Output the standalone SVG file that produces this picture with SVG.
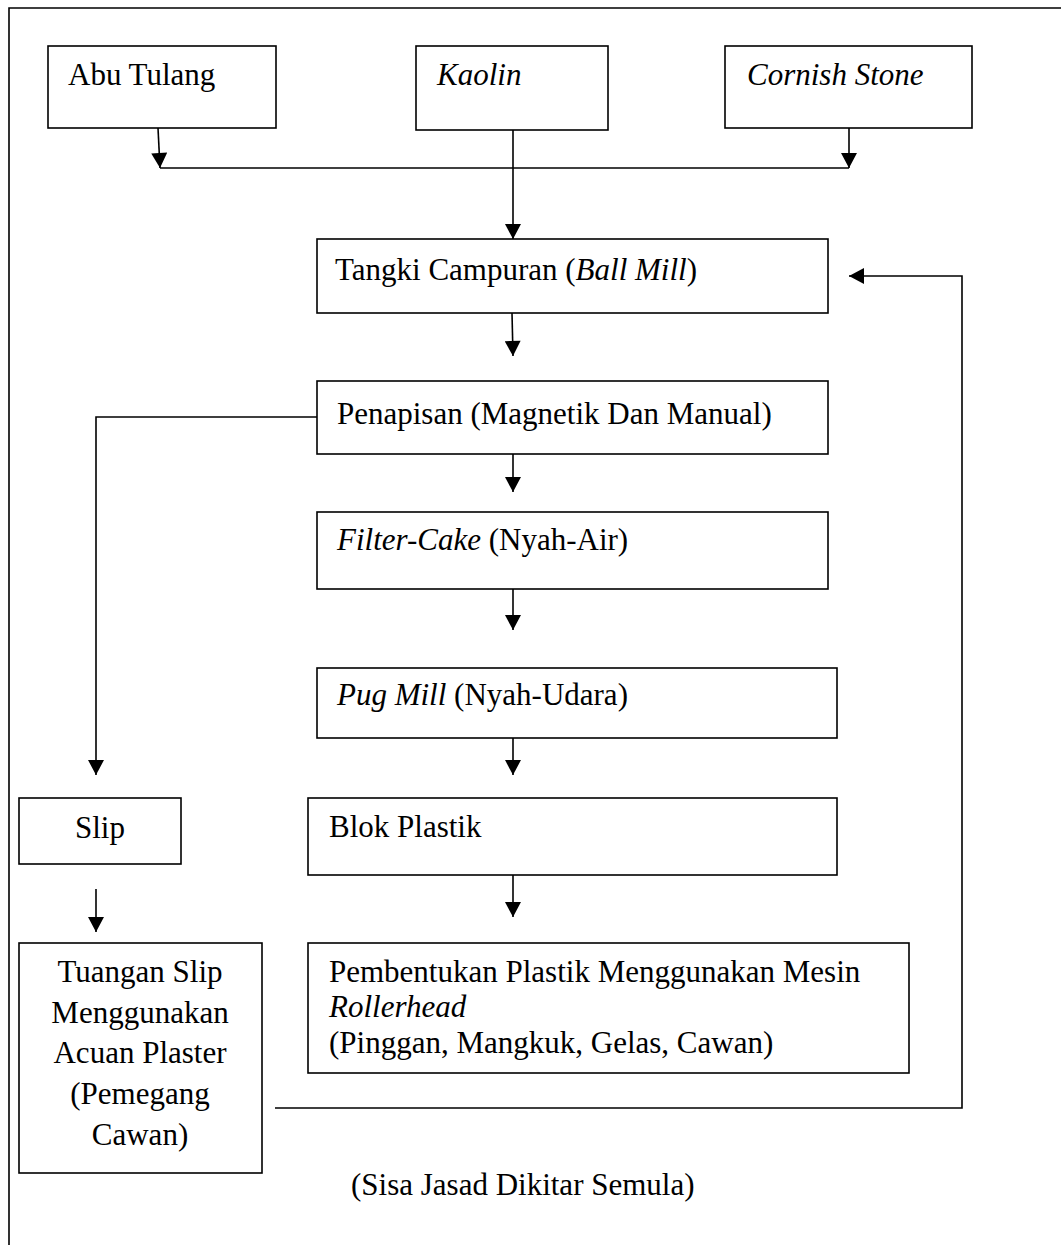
<svg xmlns="http://www.w3.org/2000/svg" width="1061" height="1245" viewBox="0 0 1061 1245">
<style>
.box{fill:#fff;stroke:#000;stroke-width:1.6}
.ln{fill:none;stroke:#000;stroke-width:1.6}
text{font-family:"Liberation Serif","Times New Roman",serif;font-size:31px;fill:#000}
.i{font-style:italic}
.c{text-anchor:middle}
</style>
<defs>
<marker id="ah" markerUnits="userSpaceOnUse" markerWidth="16" markerHeight="16" viewBox="0 0 15 16" refX="15" refY="8" orient="auto">
<path d="M0,0 L15,8 L0,16 Z" fill="#000"/>
</marker>
</defs>
<rect width="1061" height="1245" fill="#fff"/>
<g id="frame">
<path class="ln" d="M9,1245 V8 H1061"/>
</g>
<g id="connectors">
<path class="ln" d="M158,128 L160,168" marker-end="url(#ah)"/>
<path class="ln" d="M160,168 H849"/>
<path class="ln" d="M849,128 V168" marker-end="url(#ah)"/>
<path class="ln" d="M513,127 V239" marker-end="url(#ah)"/>
<path class="ln" d="M512,313 L513,356" marker-end="url(#ah)"/>
<path class="ln" d="M513,454 V492" marker-end="url(#ah)"/>
<path class="ln" d="M513,589 V630" marker-end="url(#ah)"/>
<path class="ln" d="M513,738 V775" marker-end="url(#ah)"/>
<path class="ln" d="M513,875 V917" marker-end="url(#ah)"/>
<path class="ln" d="M317,417 H96 V775" marker-end="url(#ah)"/>
<path class="ln" d="M96,889 V932" marker-end="url(#ah)"/>
<path class="ln" d="M275,1108 H962 V276 H849" marker-end="url(#ah)"/>
</g>
<g id="abu-tulang">
<rect class="box" x="48" y="46" width="228" height="82"/>
<text x="68" y="85">Abu Tulang</text>
</g>
<g id="kaolin">
<rect class="box" x="416" y="46" width="192" height="84"/>
<text class="i" x="437" y="85">Kaolin</text>
</g>
<g id="cornish-stone">
<rect class="box" x="725" y="46" width="247" height="82"/>
<text class="i" x="747" y="85">Cornish Stone</text>
</g>
<g id="tangki">
<rect class="box" x="317" y="239" width="511" height="74"/>
<text x="335" y="280">Tangki Campuran (<tspan class="i">Ball Mill</tspan>)</text>
</g>
<g id="penapisan">
<rect class="box" x="317" y="381" width="511" height="73"/>
<text x="337" y="424">Penapisan (Magnetik Dan Manual)</text>
</g>
<g id="filter-cake">
<rect class="box" x="317" y="512" width="511" height="77"/>
<text x="337" y="550"><tspan class="i">Filter-Cake</tspan> (Nyah-Air)</text>
</g>
<g id="pug-mill">
<rect class="box" x="317" y="668" width="520" height="70"/>
<text x="337" y="705"><tspan class="i">Pug Mill</tspan> (Nyah-Udara)</text>
</g>
<g id="blok-plastik">
<rect class="box" x="308" y="798" width="529" height="77"/>
<text x="329" y="837">Blok Plastik</text>
</g>
<g id="pembentukan">
<rect class="box" x="308" y="943" width="601" height="130"/>
<text x="329" y="982">Pembentukan Plastik Menggunakan Mesin</text>
<text class="i" x="329" y="1017">Rollerhead</text>
<text x="329" y="1053">(Pinggan, Mangkuk, Gelas, Cawan)</text>
</g>
<g id="slip">
<rect class="box" x="19" y="798" width="162" height="66"/>
<text class="c" x="100" y="838">Slip</text>
</g>
<g id="tuangan-slip">
<rect class="box" x="19" y="943" width="243" height="230"/>
<text class="c" x="140" y="982">Tuangan Slip</text>
<text class="c" x="140" y="1023">Menggunakan</text>
<text class="c" x="140" y="1063">Acuan Plaster</text>
<text class="c" x="140" y="1104">(Pemegang</text>
<text class="c" x="140" y="1145">Cawan)</text>
</g>
<g id="sisa-label">
<text x="351" y="1195">(Sisa Jasad Dikitar Semula)</text>
</g>
</svg>
